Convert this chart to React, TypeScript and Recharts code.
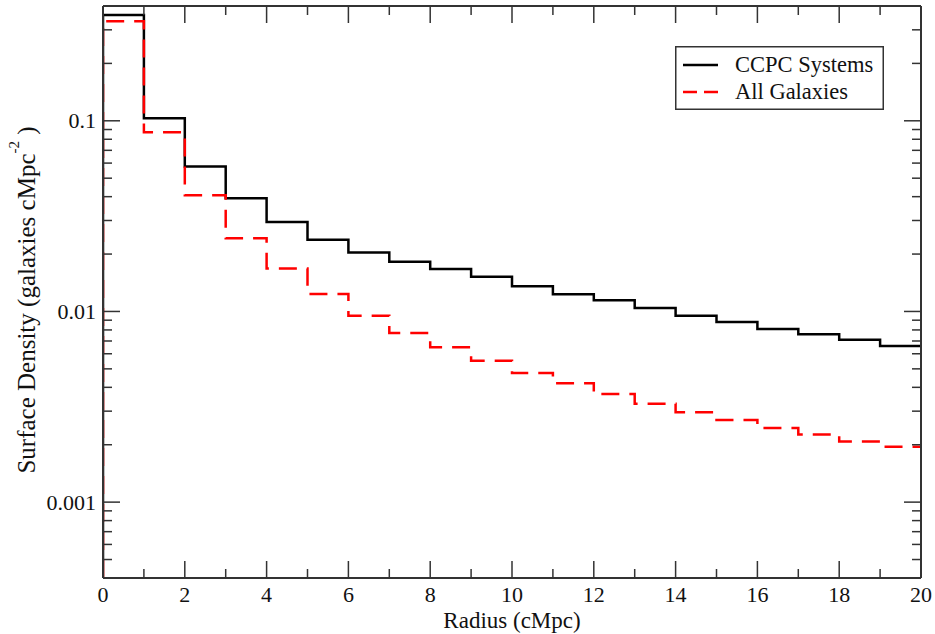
import { LineChart, Line, XAxis, YAxis, Legend } from "recharts";

// lower edge of each radial bin (cMpc)
const binStart = [0, 1, 2, 3, 4, 5, 6, 7, 8, 9, 10, 11, 12, 13, 14, 15, 16, 17, 18, 19];
const binEnd = 20;

// surface density per bin (galaxies cMpc^-2)
const ccpcSystems = [
  0.359, 0.103, 0.0576, 0.0392, 0.0295, 0.0238, 0.0204, 0.0182, 0.0167, 0.0152,
  0.01356, 0.0123, 0.01146, 0.01043, 0.0095, 0.00881, 0.00809, 0.00759, 0.00711, 0.00659,
];
const allGalaxies = [
  0.333, 0.087, 0.0407, 0.0242, 0.0168, 0.01236, 0.0095, 0.0077, 0.00649, 0.00552,
  0.00475, 0.0042, 0.00369, 0.00328, 0.00296, 0.0027, 0.00245, 0.00226, 0.00208, 0.00195,
];

const yDomain = [0.0004, 0.4];
const xTicks = [0, 1, 2, 3, 4, 5, 6, 7, 8, 9, 10, 11, 12, 13, 14, 15, 16, 17, 18, 19, 20];
const xMajor = [0, 2, 4, 6, 8, 10, 12, 14, 16, 18, 20];
const yTicks = [
  0.0005, 0.0006, 0.0007, 0.0008, 0.0009,
  0.001, 0.002, 0.003, 0.004, 0.005, 0.006, 0.007, 0.008, 0.009,
  0.01, 0.02, 0.03, 0.04, 0.05, 0.06, 0.07, 0.08, 0.09,
  0.1, 0.2, 0.3,
];
const yMajor = [0.001, 0.01, 0.1];

// histogram outline: rise from the floor at r=0, then one step per bin
const data = [
  { r: 0, ccpc: yDomain[0], all: yDomain[0] },
  ...binStart.map((r, i) => ({ r, ccpc: ccpcSystems[i], all: allGalaxies[i] })),
  { r: binEnd, ccpc: ccpcSystems[ccpcSystems.length - 1], all: allGalaxies[allGalaxies.length - 1] },
];

const FONT = '"Liberation Serif", "Times New Roman", serif';
const AXIS = "#333";
const MAJOR = 17;
const MINOR = 9;

function BottomTick({ x, y, payload }: any) {
  const major = xMajor.includes(payload.value);
  return (
    <g>
      <line x1={x} y1={y} x2={x} y2={y - (major ? MAJOR : MINOR)} stroke={AXIS} strokeWidth={1.5} />
      {major && (
        <text x={x} y={y + 24} textAnchor="middle" fontFamily={FONT} fontSize={22} fill="#111">
          {payload.value}
        </text>
      )}
    </g>
  );
}

function TopTick({ x, y, payload }: any) {
  const major = xMajor.includes(payload.value);
  return <line x1={x} y1={y} x2={x} y2={y + (major ? MAJOR : MINOR)} stroke={AXIS} strokeWidth={1.5} />;
}

function LeftTick({ x, y, payload }: any) {
  const major = yMajor.includes(payload.value);
  return (
    <g>
      <line x1={x} y1={y} x2={x + (major ? MAJOR : MINOR)} y2={y} stroke={AXIS} strokeWidth={1.5} />
      {major && (
        <text x={x - 7} y={y} dy="0.35em" textAnchor="end" fontFamily={FONT} fontSize={22} fill="#111">
          {String(payload.value)}
        </text>
      )}
    </g>
  );
}

function RightTick({ x, y, payload }: any) {
  const major = yMajor.includes(payload.value);
  return <line x1={x} y1={y} x2={x - (major ? MAJOR : MINOR)} y2={y} stroke={AXIS} strokeWidth={1.5} />;
}

function YLabel({ viewBox }: any) {
  const cx = 35;
  const cy = viewBox.y + viewBox.height / 2 + 8;
  return (
    <text
      x={cx}
      y={cy}
      transform={`rotate(-90, ${cx}, ${cy})`}
      textAnchor="middle"
      fontFamily={FONT}
      fontSize={25}
      fill="#111"
    >
      Surface Density (galaxies cMpc
      <tspan dy={-16} fontSize={15}>-2</tspan>
      <tspan dy={16}> )</tspan>
    </text>
  );
}

function LegendBox() {
  return (
    <svg width={209} height={64} style={{ display: "block" }}>
      <rect x={0.75} y={0.75} width={207.5} height={62.5} fill="#fff" stroke={AXIS} strokeWidth={1.5} />
      <line x1={8} y1={19} x2={43} y2={19} stroke="#000" strokeWidth={2.5} />
      <line x1={8} y1={46} x2={43} y2={46} stroke="#ff0000" strokeWidth={2.5} strokeDasharray="14 7" />
      <text x={60} y={26} fontFamily={FONT} fontSize={22.5} fill="#111">CCPC Systems</text>
      <text x={60} y={53} fontFamily={FONT} fontSize={22.5} fill="#111">All Galaxies</text>
    </svg>
  );
}

export default function App() {
  return (
    <div style={{ position: "absolute", left: 0, top: 0 }}>
      <LineChart width={935} height={634} data={data} margin={{ top: 5, right: 13, bottom: 0, left: 0 }}>
        <XAxis
          dataKey="r"
          type="number"
          domain={[0, 20]}
          ticks={xTicks}
          interval={0}
          tickSize={0}
          tickMargin={0}
          height={56}
          tick={<BottomTick />}
          axisLine={{ stroke: AXIS, strokeWidth: 2 }}
          allowDataOverflow
          label={{
            value: "Radius (cMpc)",
            position: "insideBottom",
            offset: 6,
            fontFamily: FONT,
            fontSize: 23,
            fill: "#111",
          }}
        />
        <XAxis
          xAxisId="top"
          orientation="top"
          dataKey="r"
          type="number"
          domain={[0, 20]}
          ticks={xTicks}
          interval={0}
          tickSize={0}
          tickMargin={0}
          height={1}
          tick={<TopTick />}
          axisLine={{ stroke: AXIS, strokeWidth: 2 }}
          allowDataOverflow
        />
        <YAxis
          type="number"
          scale="log"
          domain={yDomain}
          ticks={yTicks}
          interval={0}
          tickSize={0}
          tickMargin={0}
          width={103}
          tick={<LeftTick />}
          axisLine={{ stroke: AXIS, strokeWidth: 2 }}
          allowDataOverflow
          label={<YLabel />}
        />
        <YAxis
          yAxisId="right"
          orientation="right"
          type="number"
          scale="log"
          domain={yDomain}
          ticks={yTicks}
          interval={0}
          tickSize={0}
          tickMargin={0}
          width={1}
          tick={<RightTick />}
          axisLine={{ stroke: AXIS, strokeWidth: 2 }}
          allowDataOverflow
        />
        <Legend
          layout="vertical"
          align="center"
          verticalAlign="middle"
          wrapperStyle={{ left: 675, top: 46, width: 209, height: 64 }}
          content={() => <LegendBox />}
        />
        <Line
          type="stepAfter"
          dataKey="ccpc"
          stroke="#000"
          strokeWidth={2.5}
          dot={false}
          activeDot={false}
          isAnimationActive={false}
        />
        <Line
          type="stepAfter"
          dataKey="all"
          stroke="#ff0000"
          strokeWidth={2.5}
          strokeDasharray="18 10"
          dot={false}
          activeDot={false}
          isAnimationActive={false}
        />
      </LineChart>
    </div>
  );
}
